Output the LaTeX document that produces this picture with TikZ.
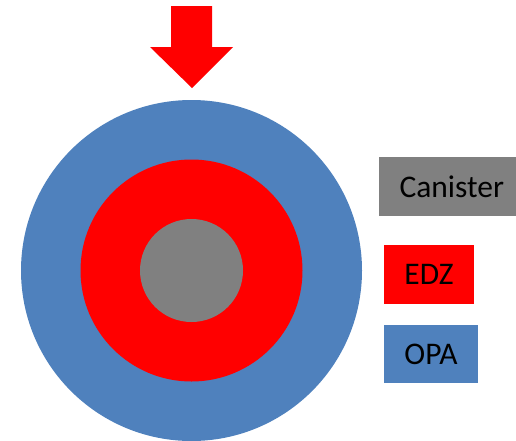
\documentclass[tikz,border=0pt]{standalone}
\usepackage{fontspec}
\setmainfont{Carlito}
\usepackage{xcolor}
\usetikzlibrary{calc}
\definecolor{opablue}{HTML}{4F81BD}
\definecolor{edzred}{HTML}{FF0000}
\definecolor{cangray}{HTML}{808080}
\tikzset{
  legendbox/.style={inner sep=0pt, font=\fontsize{31.5}{37}\selectfont, text=black}
}
\begin{document}
\begin{tikzpicture}[x=1pt,y=-1pt]
    \useasboundingbox (0,0) rectangle (516,440);
    \def\cx{191.5}\def\cy{270.5}
    % OPA (host rock)
    \fill[opablue] (\cx,\cy) circle (170.5);
    % EDZ
    \fill[edzred] (\cx,\cy) circle (111);
    % Canister
    \fill[cangray] (\cx,\cy) circle (51.5);
    % Load arrow
    \fill[edzred] (171,6) -- (212,6) -- (212,47) -- (233,47) -- (192,88)
        -- (150,47) -- (171,47) -- cycle;
    % Legend
    \node[legendbox, fill=cangray, minimum width=137pt, minimum height=59pt,
        text width=113pt, align=right]
        (canister) at (447.5,186.5) {Canister};
    \node[legendbox, fill=edzred, minimum width=90pt, minimum height=59pt]
        (edz) at (429,274.5) {EDZ};
    \node[legendbox, fill=opablue, minimum width=94pt, minimum height=58pt]
        (opa) at (431,354) {OPA};
  \end{tikzpicture}
\end{document}
